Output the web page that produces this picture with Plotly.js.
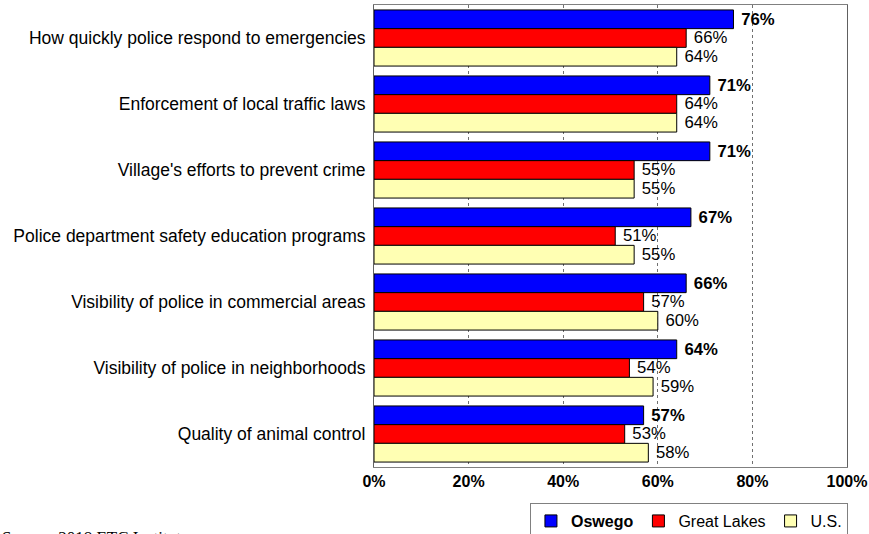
<!DOCTYPE html>
<html>
<head>
<meta charset="utf-8">
<script src="https://cdn.plot.ly/plotly-3.0.1.min.js"></script>
<style>body{margin:0;padding:0;background:#fff;} #chart{width:869px;height:534px;}</style>
</head>
<body>
<div id="chart"></div>
<script>
const categories = [
  "How quickly police respond to emergencies",
  "Enforcement of local traffic laws",
  "Village's efforts to prevent crime",
  "Police department safety education programs",
  "Visibility of police in commercial areas",
  "Visibility of police in neighborhoods",
  "Quality of animal control"
];
const oswego = [76, 71, 71, 67, 66, 64, 57];
const greatLakes = [66, 64, 55, 51, 57, 54, 53];
const us = [64, 64, 55, 55, 60, 59, 58];
const seriesNames = ["<b>Oswego</b>", "Great Lakes", "U.S."];
const seriesColors = ["#0000FF", "#FF0000", "#FFFFB3"];
const xTicks = [0, 20, 40, 60, 80, 100];

const seriesValues = [oswego, greatLakes, us];
const traces = seriesValues.map((vals, i) => ({
  type: "bar",
  orientation: "h",
  name: seriesNames[i],
  y: categories,
  x: vals,
  marker: {color: seriesColors[i], line: {color: "#000000", width: 1}},
  text: vals.map(v => v + "%"),
  texttemplate: i === 0 ? " <b>%{text}</b>" : " %{text}",
  textposition: "outside",
  cliponaxis: false,
  textfont: {family: "Arial, Liberation Sans", size: 17, color: "#000000"},
  hoverinfo: "none"
}));

const layout = {
  width: 869,
  height: 534,
  margin: {l: 374, r: 22, t: 5, b: 67, autoexpand: false},
  paper_bgcolor: "#ffffff",
  plot_bgcolor: "#ffffff",
  barmode: "group",
  bargap: 0.15,
  bargroupgap: 0,
  font: {family: "Arial, Liberation Sans", size: 16, color: "#000000"},
  xaxis: {
    range: [0, 100],
    automargin: false,
    tickvals: xTicks,
    ticktext: xTicks.map(t => t + "%"),
    tickfont: {family: "Arial, Liberation Sans", size: 16, weight: "bold"},
    showgrid: true,
    gridcolor: "#707070",
    griddash: "dot",
    gridwidth: 1,
    zeroline: false,
    showline: true,
    linecolor: "#808080",
    linewidth: 1,
    mirror: true,
    ticks: "",
    ticklen: 0
  },
  yaxis: {
    autorange: "reversed",
    automargin: false,
    tickfont: {family: "Arial, Liberation Sans", size: 17.5},
    showline: true,
    linecolor: "#606060",
    mirror: true,
    ticks: "",
    showgrid: false,
    ticklabelstandoff: 4
  },
  showlegend: true,
  legend: {
    orientation: "h",
    x: 1.002,
    xanchor: "right",
    y: -0.078,
    yanchor: "top",
    bordercolor: "#808080",
    borderwidth: 1,
    bgcolor: "#ffffff",
    font: {family: "Arial, Liberation Sans", size: 16},
    traceorder: "normal",
    itemwidth: 30
  },
  annotations: [{
    text: "Source: 2018 ETC Institute",
    xref: "paper", yref: "paper",
    x: -0.7907, xanchor: "left",
    y: -0.128, yanchor: "top",
    showarrow: false,
    font: {family: "Liberation Serif, Times New Roman", size: 17, color: "#000000"}
  }]
};

Plotly.newPlot("chart", traces, layout, {displayModeBar: false, staticPlot: true});
</script>
</body>
</html>
